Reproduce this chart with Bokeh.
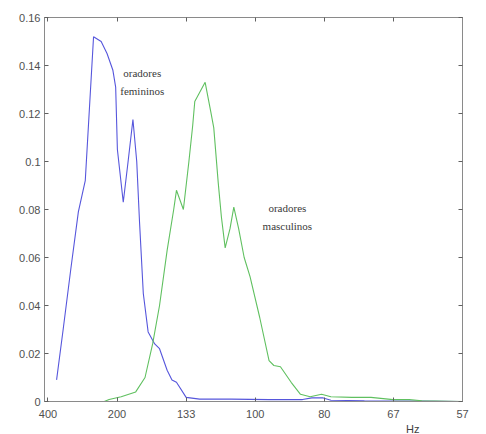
from bokeh.plotting import figure
from bokeh.models import (LinearAxis, FixedTicker, Range1d, Title, NumeralTickFormatter,
                          ColumnDataSource, CustomLabelingPolicy)
from bokeh.embed import file_html
from bokeh.resources import INLINE
from bokeh.core.properties import value

# x axis: pitch period in samples (8 kHz), labelled with the frequency in Hz
x_ticks = [20, 40, 60, 80, 100, 120, 140]
x_tick_labels = ["400", "200", "133", "100", "80", "67", "57"]
y_ticks = [0, 0.02, 0.04, 0.06, 0.08, 0.10, 0.12, 0.14, 0.16]

# female speakers (blue)
fem_x = [22.5, 24.4, 26.6, 28.8, 30.8, 33.2, 35.4, 37.1, 38.8, 39.6, 40.1, 41.8,
         43.2, 44.6, 45.7, 46.5, 47.6, 49.0, 50.9, 52.3, 54.5, 55.9, 57.2, 60.0,
         63.9, 73.0, 84.0, 93.7, 96.4, 99.7, 101.9, 111.6, 128.1, 139.2]
fem_y = [0.009, 0.030, 0.055, 0.079, 0.092, 0.152, 0.150, 0.145, 0.138, 0.131, 0.105, 0.083,
         0.100, 0.1175, 0.100, 0.075, 0.045, 0.029, 0.024, 0.022, 0.013, 0.009, 0.008, 0.0017,
         0.001, 0.001, 0.0008, 0.0008, 0.0015, 0.0015, 0.0005, 0.0003, 0.0002, 0.0]

# male speakers (green)
masc_x = [22.5, 36.3, 37.7, 41.2, 45.4, 48.1, 50.3, 52.3, 54.5, 56.4, 57.2, 59.2,
          60.8, 61.9, 62.5, 65.5, 67.1, 68.0, 69.3, 70.2, 71.3, 72.7, 73.8, 75.2,
          76.8, 78.5, 81.3, 84.0, 85.4, 87.3, 90.4, 93.1, 95.9, 99.2, 101.9, 108.0,
          113.5, 119.9, 124.6, 128.2, 140.0]
masc_y = [0.0, 0.0, 0.0008, 0.002, 0.004, 0.010, 0.024, 0.040, 0.063, 0.080, 0.088, 0.080,
          0.100, 0.115, 0.125, 0.133, 0.121, 0.114, 0.091, 0.077, 0.064, 0.072, 0.081, 0.072,
          0.060, 0.052, 0.035, 0.017, 0.015, 0.0145, 0.008, 0.003, 0.002, 0.003, 0.002, 0.0017,
          0.0017, 0.0008, 0.0008, 0.0003, 0.0]

note_text = ["oradores", "femininos", "oradores", "masculinos"]
note_x = [47.3, 47.3, 89.3, 89.3]
note_y = [0.137, 0.1295, 0.0808, 0.0733]

AX = "#8a8a8a"
TXT = "#505050"

p = figure(width=486, height=434, output_backend="svg", toolbar_location=None,
           x_range=Range1d(19, 140), y_range=Range1d(0, 0.16),
           min_border_left=44, min_border_right=3, min_border_top=17, min_border_bottom=32,
           x_axis_location=None, y_axis_location=None)
p.grid.visible = False
p.outline_line_color = AX
p.background_fill_color = "white"
p.border_fill_color = "white"

no_labels = CustomLabelingPolicy(code="return new Set()")

def style(ax, labels=True):
    ax.axis_line_color = AX
    ax.axis_line_width = 1
    ax.major_tick_line_color = "#606060"
    ax.major_tick_in = 4
    ax.major_tick_out = 0
    ax.minor_tick_line_color = None
    if labels:
        ax.major_label_text_font = "Liberation Sans"
        ax.major_label_text_font_size = "11px"
        ax.major_label_text_color = TXT
    else:
        ax.major_label_policy = no_labels
        ax.major_label_standoff = 0

xb = LinearAxis(ticker=FixedTicker(ticks=x_ticks),
                major_label_overrides={t: l for t, l in zip(x_ticks, x_tick_labels)})
style(xb)
xb.major_label_standoff = 8
p.add_layout(xb, "below")

# unit label under the axis, near the right end
p.add_layout(Title(text="Hz", align="right", offset=43, standoff=0,
                   text_font="Liberation Sans", text_font_size="11px",
                   text_font_style="normal", text_color="#404040"), "below")

xt = LinearAxis(ticker=FixedTicker(ticks=x_ticks))
style(xt, labels=False)
p.add_layout(xt, "above")

yl = LinearAxis(ticker=FixedTicker(ticks=y_ticks), formatter=NumeralTickFormatter(format="0.[00]"))
style(yl)
yl.major_label_standoff = 4
p.add_layout(yl, "left")

yr = LinearAxis(ticker=FixedTicker(ticks=y_ticks))
style(yr, labels=False)
p.add_layout(yr, "right")

p.line(fem_x, fem_y, line_color="#5656dc", line_width=1.1)
p.line(masc_x, masc_y, line_color="#60c060", line_width=1.1)

src = ColumnDataSource(dict(x=note_x, y=note_y, t=note_text))
p.text(x="x", y="y", text="t", source=src, text_font=value("Liberation Serif"),
       text_font_size="11px", text_color="#3a3a3a", text_align="center", text_baseline="middle")

open("out.html", "w").write(file_html(p, INLINE))
